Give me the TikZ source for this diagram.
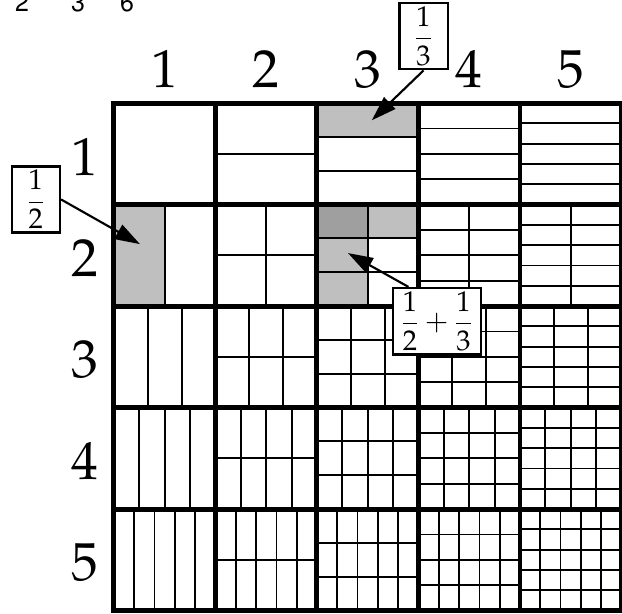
\documentclass[tikz,border=0pt]{standalone}
\usepackage[T1]{fontenc}
\usepackage{mathpazo}
\usetikzlibrary{arrows.meta}

\newcommand{\boxfrac}[1]{{\fontsize{16}{19}\selectfont$\displaystyle #1$}}

\begin{document}
\begin{tikzpicture}[x=2cm, y=-2cm,
    thin line/.style={line width=1pt},
    thick line/.style={line width=2.8pt, line cap=rect},
    label box/.style={draw, line width=1.3pt, fill=white, inner sep=2pt},
    big num/.style={font=\fontsize{30}{34}\selectfont},
    small num/.style={anchor=base, font=\fontfamily{phv}\fontsize{14}{17}\selectfont},
    pointer/.style={line width=1.2pt, -{Triangle[length=14pt,width=9pt]}}]
  \useasboundingbox (-1.123,-1.015) rectangle (5.005,5.034);
  \fill[gray!50] (0,1) rectangle (0.5,2);
  \fill[gray!50] (2,0) rectangle (3,1/3);
  \fill[gray!50] (2,1) rectangle (2.5,2);
  \fill[gray!50] (2,1) rectangle (3,4/3);
  \fill[gray!75] (2,1) rectangle (2.5,4/3);
  \foreach \i in {1,...,5} {
    \foreach \j in {1,...,5} {
      \foreach \k in {1,...,\i} {
        \draw[thin line] ({\j-1+\k/\i},\i-1) -- ++(0,1);
      }
      \foreach \k in {1,...,\j} {
        \draw[thin line] (\j-1,{\i-1+\k/\j}) -- ++(1,0);
      }
    }
  }
  \foreach \n in {0,...,5} {
    \draw[thick line] (\n,0) -- (\n,5);
    \draw[thick line] (0,\n) -- (5,\n);
  }
  \foreach \n in {1,...,5} {
    \node[big num] (col\n) at (\n-0.5,-0.33) {\n};
    \node[big num] (row\n) at (-0.29,\n-0.47) {\n};
  }
  \foreach \d/\x in {2/-0.906,3/-0.355,6/0.128} {
    \node[small num] (top\d) at (\x,-0.897) {\d};
  }
  \node[label box, minimum width=0.95cm, minimum height=1.22cm] (third) at (3.05,-0.66) {\boxfrac{\frac{1}{3}}};
  \node[label box, minimum width=0.95cm, minimum height=1.22cm] (half) at (-0.77,0.95) {\boxfrac{\frac{1}{2}}};
  \node[label box, minimum width=1.73cm, minimum height=1.14cm] (sum) at (3.18,2.15) {\boxfrac{\frac{1}{2}+\frac{1}{3}}};
  \coordinate (thirdtip) at (2.54,0.17);
  \coordinate (halftip) at (0.256,1.39);
  \coordinate (sumtip) at (2.305,1.478);
  \draw[pointer] (third.south) -- (thirdtip);
  \draw[pointer] (half.east) -- (halftip);
  \draw[pointer] ([xshift=0.33cm]sum.north west) -- (sumtip);
\end{tikzpicture}
\end{document}
